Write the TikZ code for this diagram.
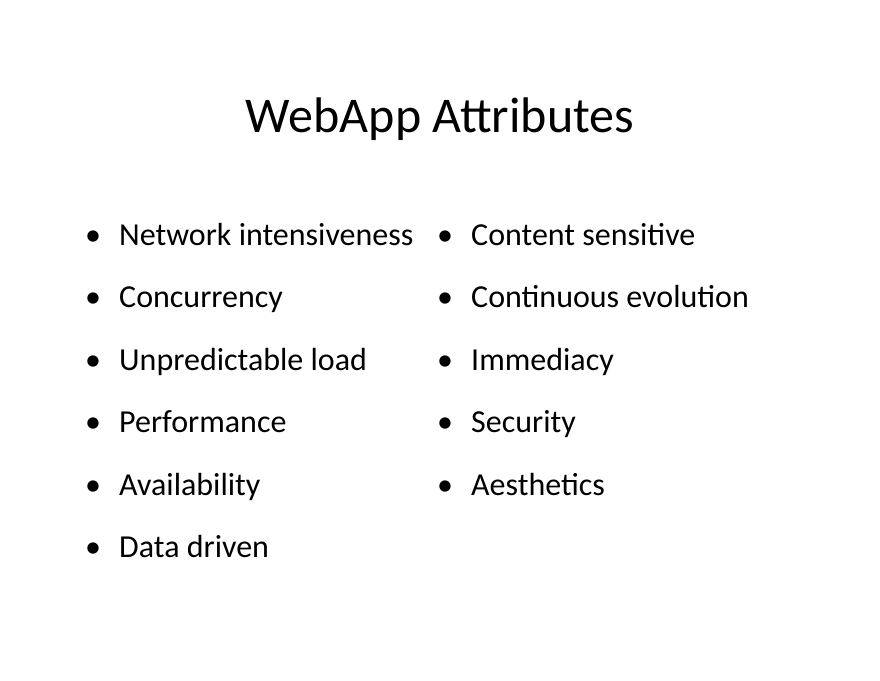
\documentclass[tikz,border=0pt]{standalone}
\usepackage{fontspec}
\setmainfont{Carlito}
\begin{document}
\begin{tikzpicture}[x=1pt,y=-1pt,
  item/.style={anchor=base west,inner sep=0pt,font=\fontsize{32}{36}\selectfont},
  bul/.style={anchor=base,inner sep=0pt,font=\fontsize{32}{36}\selectfont}]
\useasboundingbox[fill=white] (0,0) rectangle (880,680);
\node[anchor=base,inner sep=0pt,font=\fontsize{50}{56}\selectfont] (title) at (440,132) {WebApp Attributes};
\foreach \t [count=\i] in {Network intensiveness,Concurrency,Unpredictable load,Performance,Availability,Data driven}{
  \node[bul] (bl\i) at (93,{245+62.5*(\i-1)}) {•};
  \node[item] (l\i) at (119,{245+62.5*(\i-1)}) {\t};
}
\foreach \t [count=\i] in {Content sensitive,Continuous evolution,Immediacy,Security,Aesthetics}{
  \node[bul] (br\i) at (445,{245+62.5*(\i-1)}) {•};
  \node[item] (r\i) at (471,{245+62.5*(\i-1)}) {\t};
}
\end{tikzpicture}
\end{document}
